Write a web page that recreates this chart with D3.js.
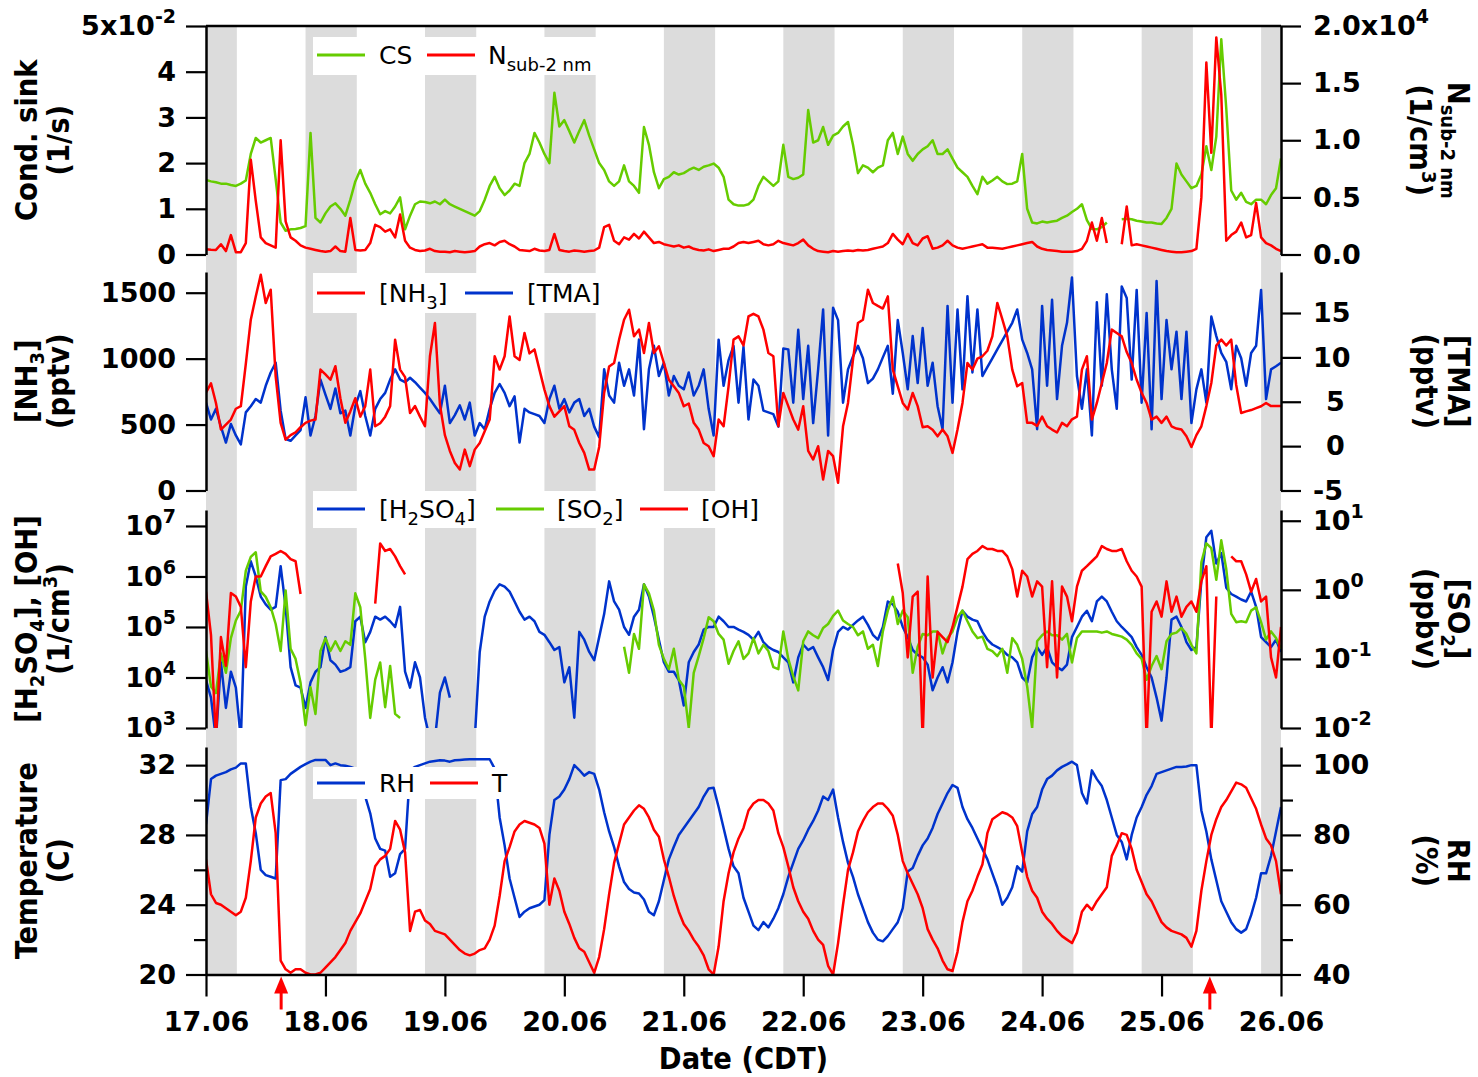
<!DOCTYPE html>
<html><head><meta charset="utf-8">
<script src="https://cdn.jsdelivr.net/npm/d3@7"></script>
<style>
body{margin:0;background:#fff;}
svg{display:block;}
.tick text{font-family:'DejaVu Sans',sans-serif;font-weight:bold;font-size:27px;fill:#000;}
.title{font-family:'DejaVu Sans Condensed','DejaVu Sans',sans-serif;font-stretch:condensed;font-weight:bold;font-size:30.5px;fill:#000;}
.leg{font-family:'DejaVu Sans',sans-serif;font-size:25px;fill:#000;}
</style></head><body>
<svg id="chart" width="1478" height="1077"></svg>
<script>
const _ = null;
// time axis: hours since 17.06 00:00 CDT, one sample per hour (0..216)
const dayTicks = [0,24,48,72,96,120,144,168,192,216];
const dayLabels = ["17.06","18.06","19.06","20.06","21.06","22.06","23.06","24.06","25.06","26.06"];
const nightBands = [[0,6.2],[20,30.3],[44,54.3],[68,78.3],[92,102.3],[116,126.3],[140,150.3],[164,174.3],[188,198.3],[212,216]];
const npfEvents = [15.1, 201.7];

// Condensation sink (x10^-2 1/s)
const cs = [
1.63,1.6,1.58,1.55,1.55,1.52,1.5,1.55,1.62,2.2,2.55,2.45,
2.5,2.55,1.65,0.7,0.52,0.55,0.56,0.58,0.62,2.66,0.8,0.7,
0.9,1.05,1.12,1.0,0.85,1.2,1.6,1.85,1.55,1.35,1.1,0.88,
0.95,0.9,1.05,1.25,0.55,0.85,1.1,1.16,1.15,1.12,1.16,1.1,
1.2,1.1,1.05,1.0,0.95,0.9,0.85,0.95,1.2,1.5,1.7,1.45,
1.3,1.4,1.55,1.5,2.0,2.2,2.66,2.45,2.2,2.0,3.54,2.8,
2.94,2.7,2.45,2.7,2.94,2.6,2.3,2.0,1.85,1.6,1.5,1.6,
1.95,1.6,1.5,1.35,2.79,2.4,1.8,1.45,1.65,1.7,1.8,1.75,
1.78,1.85,1.9,1.85,1.92,1.95,1.99,1.9,1.7,1.2,1.1,1.07,
1.07,1.1,1.2,1.5,1.7,1.6,1.5,1.6,2.4,1.7,1.65,1.68,
1.75,3.16,2.45,2.5,2.79,2.4,2.6,2.66,2.8,2.9,2.4,1.78,
1.95,1.9,1.8,1.9,1.95,2.5,2.66,2.2,2.58,2.2,2.05,2.2,
2.3,2.37,2.5,2.2,2.2,2.3,2.1,1.9,1.8,1.7,1.5,1.32,
1.7,1.55,1.62,1.7,1.6,1.54,1.55,1.6,2.2,1.0,0.7,0.68,
0.72,0.7,0.72,0.74,0.8,0.85,0.93,1.0,1.1,0.75,0.56,0.55,
0.6,0.7,_,_,0.77,0.78,0.77,0.74,0.72,0.7,0.7,0.68,
0.67,0.8,1.0,1.99,1.75,1.6,1.45,1.5,1.75,2.37,1.85,2.58,
4.71,3.2,1.4,1.2,1.35,1.15,1.1,1.2,1.2,1.1,1.3,1.45,
2.1];

// N sub-2 nm (1/cm3)
const nsub = [
450,420,400,900,300,1700,200,200,1000,8300,4700,1500,
1000,800,600,10000,2900,1500,1200,800,600,500,400,300,
250,300,700,300,250,3200,400,350,400,1000,2600,2400,
2000,2200,1500,3500,1200,600,400,300,350,500,300,250,
250,200,300,250,200,250,300,700,900,1000,800,1100,
1200,900,700,400,350,300,500,350,300,400,1800,400,
300,250,350,300,250,300,350,600,2400,2600,1200,900,
1500,1300,1800,1400,2000,1500,1000,1100,900,800,700,800,
600,700,500,400,350,450,300,400,500,500,700,1000,
1100,1000,1100,1200,900,800,900,1200,1000,900,800,1000,
1300,800,500,300,250,200,300,250,300,350,300,400,
350,400,500,600,700,1000,1800,1300,900,1800,1000,800,
1400,1600,500,600,800,1200,800,600,500,600,700,800,
900,600,600,550,500,600,700,800,900,1000,1100,700,
500,400,350,300,250,250,250,300,500,1200,2800,1200,
3200,1000,_,_,900,4200,800,900,800,700,600,500,
400,300,250,200,200,250,300,500,5000,16800,8900,19000,
14000,1200,1700,2000,2800,1500,1700,4500,1500,1000,800,500,
300];

// [NH3] (pptv)
const nh3 = [
742,813,664,462,500,538,620,639,960,1295,1472,1636,
1422,1523,866,513,386,420,440,480,513,530,538,917,
880,840,942,700,513,600,700,560,640,917,487,510,
560,640,1144,917,860,588,640,560,487,1018,1270,650,
420,300,209,159,310,185,310,361,450,538,1018,917,
1018,1320,1018,990,1194,1040,1070,917,765,640,560,600,
640,487,460,360,285,159,159,330,740,940,967,1144,
1295,1371,1169,1220,1043,1270,1043,1094,967,840,790,740,
639,660,513,462,360,336,260,538,487,790,1144,1169,
1100,1320,1340,1320,1220,1043,1018,487,740,640,538,462,
639,300,235,336,83,300,260,58,487,664,993,1270,
1295,1523,1422,1400,1380,1472,917,790,664,614,740,640,
480,487,460,411,462,411,285,462,664,967,917,1000,
1018,1060,1169,1422,1300,1169,917,790,815,513,513,490,
560,487,462,440,513,487,540,560,917,1018,538,664,
815,967,1220,1194,1169,1050,967,840,740,664,538,560,
513,560,487,470,462,411,330,420,487,640,815,1100,
1144,1100,1144,800,588,600,610,625,639,664,640,640,
640];

// [TMA] (pptv)
const tma = [
4.9,3.0,4.2,2.2,0.4,2.5,1.2,0.2,3.8,4.5,5.3,4.9,
6.8,8.3,9.4,4.0,0.8,0.6,1.2,1.8,5.5,1.2,3.4,7.5,
5.8,4.2,6.5,3.7,4.0,1.2,4.5,6.2,3.4,1.2,4.2,5.3,
6.0,7.5,8.65,7.5,7.2,7.7,7.2,6.6,6.0,5.3,4.5,3.7,
6.8,2.6,3.5,4.6,3.0,4.9,1.2,2.6,1.9,4.2,6.0,7.0,
6.0,4.5,5.6,0.4,4.2,3.8,3.6,3.4,2.6,5.3,6.8,4.2,
5.3,3.8,4.9,5.3,3.4,4.2,2.2,1.0,8.65,5.7,4.9,9.4,
6.8,8.65,5.7,12.0,1.9,8.65,11.3,7.9,9.4,5.7,7.9,6.8,
6.4,8.3,5.7,6.8,8.65,4.2,1.2,12.0,6.8,9.7,11.3,4.9,
11.2,3.0,7.5,6.8,4.0,3.8,3.6,2.2,11.0,10.9,4.9,13.1,
5.3,11.3,2.6,8.65,15.4,1.2,15.6,14.2,4.9,8.65,10.1,11.3,
9.9,7.1,7.6,8.65,10.0,11.3,5.9,14.2,10.5,6.4,12.4,7.1,
13.3,6.8,9.4,4.5,1.9,15.8,4.9,15.4,6.4,16.9,8.3,15.4,
7.9,8.9,9.9,10.9,11.9,12.9,13.9,15.4,12.0,10.5,8.65,1.9,
15.8,6.8,16.5,5.3,11.3,13.9,19.0,7.9,4.2,8.65,1.2,16.2,
6.8,17.1,8.65,4.2,18.0,16.7,7.5,17.6,4.9,15.0,1.9,18.6,
5.3,14.2,8.65,12.9,5.3,12.9,2.6,6.4,8.65,4.9,14.6,12.4,
10.5,9.5,6.4,11.3,9.9,6.8,10.5,11.3,17.6,5.3,8.65,9.0,
9.4];

// [H2SO4] (1/cm3)
const h2so4 = [
8.9e3,4e3,6e2,2e4,2.5e3,1.3e4,6.3e3,6e2,6.3e5,2e6,1e6,4e5,
2.8e5,2.2e5,2.5e5,1.6e6,2.5e5,1.6e4,7e3,6.3e3,2.5e3,8e3,1.3e4,1.6e4,
6.3e4,2.2e4,1.8e4,1.3e4,1.4e4,1.6e4,1.3e5,1.6e5,5e4,8e4,1.6e5,1.4e5,
1.6e5,1.3e5,1e5,2.5e5,1.3e4,6.3e3,2e4,1e4,1.6e3,6e2,6e2,5e3,
1e4,4e3,_,_,_,_,6e2,3.2e4,1.6e5,3.2e5,5.2e5,7e5,
6.3e5,5e5,3.2e5,2e5,1.4e5,1.6e5,1.3e5,8e4,7e4,5e4,3.5e4,4e4,
8e3,1.6e4,1.6e3,8e4,5.6e4,3.2e4,2.2e4,6.3e4,1.8e5,8e5,3.2e5,2.2e5,
1e5,7e4,1.6e5,2.2e5,7e5,4e5,1.6e5,5.6e4,2e4,1.3e4,1.3e4,8.9e3,
2.8e3,2e4,3.2e4,4.5e4,8.9e4,1e5,1e5,1.6e5,1.3e5,1e5,1e5,8.9e4,
8e4,7e4,5.6e4,8e4,5e4,4e4,3.5e4,3.2e4,2.5e4,2e4,8e3,2.5e4,
4.5e4,3.5e4,4e4,2.5e4,1.6e4,8.9e3,3.5e4,8e4,1e5,8.9e4,1.1e5,1.35e5,
1.6e5,1.1e5,7e4,5.6e4,1e5,3.2e5,2.8e5,2e5,1e5,6.3e4,3.5e4,2.8e4,
2.5e4,1.8e4,5.6e3,1e4,1.6e4,8e3,2e4,8e4,2.1e5,1.6e5,1.4e5,1.3e5,
8e4,5.6e4,4.5e4,4e4,3.5e4,2.8e4,2.5e4,2e4,1e4,8e3,2.5e4,4e4,
2.8e4,4e4,2e4,1.6e4,1.4e4,1.8e4,6.3e4,1e5,1.6e5,2.1e5,1.3e5,3.2e5,
4e5,3.2e5,2e5,1.3e5,1e5,8e4,6.3e4,4e4,2.8e4,1.6e4,1e4,4e3,
1.4e3,1e4,1.4e5,1.6e5,1e5,5e4,3.5e4,4e4,8.5e5,6e6,8e6,1.8e6,
2.9e6,6e5,4.5e5,4e5,3.5e5,3.2e5,5e5,2.5e5,6.3e4,5e4,4e4,5.6e4,
3.2e4];

// [OH] (1/cm3)
const oh = [
5e5,7e4,6e2,6.3e4,1.7e4,4.7e5,4e5,2.5e5,1.6e4,3.2e5,1e6,1e6,
1.6e6,2.5e6,2.8e6,3.2e6,2.8e6,2.2e6,2e6,4.5e5,_,_,_,_,
_,_,_,_,_,_,_,_,_,_,2.9e5,4.5e6,
3.2e6,3.5e6,2.5e6,1.6e6,1.1e6,_,_,_,_,_,_,_,
_,_,_,_,_,_,_,_,_,_,_,_,
_,_,_,_,_,_,_,_,_,_,_,_,
_,_,_,_,_,_,_,_,_,_,_,_,
_,_,_,_,_,_,_,_,_,_,_,_,
_,_,_,_,_,_,_,_,_,_,_,_,
_,_,_,_,_,_,_,_,_,_,_,_,
_,_,_,_,_,_,_,_,_,_,_,_,
_,_,_,_,_,_,_,1.8e6,4.7e5,2.5e4,4e5,5e5,
6e2,1e6,1e4,8e4,6.3e4,5e4,1e5,2.5e5,6.3e5,2.2e6,2.8e6,3.2e6,
4e6,3.5e6,3.5e6,3.2e6,3.2e6,2.5e6,1.4e6,4e5,1.3e6,1e6,4e5,8e5,
6.3e5,1.6e4,8e5,1e4,6.3e5,4e5,1.3e5,6.3e5,1.3e6,1.6e6,2e6,2.5e6,
4e6,3.5e6,3.2e6,3.2e6,3.5e6,2e6,1.3e6,1e6,6.3e5,6e2,2e5,3.2e5,
1.6e5,8e5,2e5,4e5,1.6e5,2.5e5,3.2e5,2e5,8e5,1.6e6,6e2,4e5,
_,_,2.5e6,2e6,2e6,1.1e6,5e5,8.9e5,3.2e5,4e5,2.5e4,1e4,
1e5];

// [SO2] (ppbv)
const so2 = [
0.13,0.04,0.032,0.12,0.063,0.2,0.36,0.5,1.9,3.0,3.5,0.95,
0.79,0.56,0.32,0.13,0.98,0.14,0.1,0.045,0.011,0.039,0.016,0.13,
0.2,0.13,0.18,0.13,0.18,0.16,0.89,0.56,0.1,0.014,0.05,0.089,
0.02,0.079,0.016,0.014,_,_,_,_,_,_,_,_,
_,_,_,_,_,_,_,_,_,_,_,_,
_,_,_,_,_,_,_,_,_,_,_,_,
_,_,_,_,_,_,_,_,_,_,_,_,
0.15,0.063,0.23,0.14,1.2,0.89,0.5,0.16,0.1,0.071,0.14,0.05,
0.04,0.01,0.063,0.11,0.2,0.4,0.35,0.23,0.19,0.085,0.13,0.18,
0.1,0.12,0.2,0.12,0.16,0.13,0.076,0.071,0.25,0.1,0.056,0.035,
0.18,0.25,0.22,0.2,0.28,0.32,0.42,0.5,0.36,0.32,0.29,0.22,
0.25,0.14,0.16,0.079,0.25,0.5,0.79,0.32,0.5,0.4,0.063,0.15,
0.23,0.22,0.25,0.25,0.12,0.2,0.25,0.4,0.5,0.35,0.25,0.2,
0.21,0.14,0.13,0.11,0.14,0.063,0.2,0.16,0.1,0.04,0.01,0.18,
0.22,0.25,0.22,0.22,0.19,0.23,0.089,0.2,0.25,0.25,0.25,0.25,
0.24,0.25,0.23,0.22,0.21,0.19,0.16,0.12,0.1,0.05,0.079,0.11,
0.071,0.18,0.23,0.24,0.28,0.23,0.16,0.12,2.5,4.7,4.0,1.4,
5.2,2.0,0.45,0.34,0.35,0.34,0.5,0.56,0.34,0.19,0.25,0.2,
0.14];

// RH (%)
const rh = [
83,96,97,97.5,98,98.8,99.3,100.5,100.5,88,80.5,70,
68.5,68,67.5,95.7,96,97.5,98.5,99.5,100.3,101,101.5,101.5,
101.5,100,100.5,100,99.8,99.5,99,97,91,86.2,79,76,
75.5,68,69,74.5,76,98.5,99.5,100,100.5,101,101.2,101.4,
101.3,101,101.4,101.5,101.6,101.7,101.7,101.7,101.7,101.7,99,85,
77,67.5,62,56.5,58,59,59.5,60,61.3,80,90,91,
93,96,100,98.6,97,98,97.5,93,86.5,81,76.5,71,
66.5,64.5,63.5,63.2,61.5,58,57,61,67,73,76.6,80,
82,84,86,88,91,93.3,93.5,88,82,76,71,69,
62,58,54,52.7,55,53.5,56,59,63,68,72,76,
78.5,81.5,84,87,91,90,93,85,78,72,68,63,
59,55,52,50,49.5,51,53,55,59,69.5,70.5,74,
77,79,82,86,89,92,94.3,93.5,88,84.5,82,79,
76,73,69,65,60,62,65,71,69.5,81,86,88,
93,96,97,98.5,99.5,100.2,101,100,92,89,98.5,96,
94,90,85,80,78,73,80,85,88,91.5,94,97.5,
98,98.5,99,99.5,99.5,99.6,100,100,87,81,73,67,
61,58,55,53,52,53,57,62,69,69,74,81,
88];

// Temperature (C)
const temp = [
26.6,24.6,24.1,24.0,23.8,23.6,23.4,23.6,24.4,26.5,29.0,29.8,
30.2,30.4,28.1,20.8,20.3,20.1,20.3,20.3,20.1,20.0,20.0,20.1,
20.4,20.7,21.0,21.4,21.8,22.5,23.0,23.5,24.2,24.9,26.2,26.6,
26.8,27.2,28.8,28.3,27.0,22.5,23.6,23.7,23.1,22.9,22.5,22.4,
22.3,22.0,21.7,21.4,21.2,21.1,21.2,21.4,21.5,22.0,22.8,24.5,
26.5,27.3,28.2,28.6,28.8,28.7,28.6,28.4,27.5,24.0,25.5,24.8,
23.6,22.9,22.1,21.5,21.3,20.7,20.1,21.0,22.6,24.6,26.4,27.5,
28.6,29.0,29.4,29.7,29.5,29.0,28.3,27.9,26.6,25.6,24.5,23.6,
22.9,22.5,22.0,21.6,21.1,20.3,20.0,21.6,24.2,25.8,27.0,27.8,
28.4,29.4,29.8,30.0,30.0,29.8,29.4,28.1,27.3,26.2,25.0,24.2,
23.6,23.2,22.5,22.0,21.7,20.5,20.0,21.8,24.0,26.0,27.0,28.2,
28.8,29.3,29.6,29.8,29.8,29.5,29.1,28.0,26.5,25.8,25.2,24.6,
23.8,22.6,22.0,21.5,20.8,20.3,20.2,21.3,23.0,24.2,24.8,25.6,
26.3,28.1,28.9,29.1,29.3,29.2,29.0,28.5,27.0,25.6,24.8,24.4,
23.6,23.2,22.9,22.5,22.2,22.0,21.8,22.4,23.6,24.0,23.7,24.2,
24.6,25.0,26.8,27.4,28.1,28.0,27.2,26.0,25.3,24.6,24.2,23.6,
23.0,22.7,22.5,22.4,22.3,22.1,21.6,22.5,24.8,26.5,28.0,28.9,
29.6,30.0,30.5,31.0,30.9,30.7,30.1,29.5,28.6,27.8,27.4,26.5,
24.6];

// ---------------- layout ----------------
const L = 206, R = 1281;
const panels = [{top:26,bottom:254.5},{top:272,bottom:490.5},{top:510,bottom:728},{top:747,bottom:974.5}];
const GREEN = '#66cc00', RED = '#ff0000', BLUE = '#0033cc', GREY = '#dcdcdc';

const svg = d3.select('#chart');
const x = d3.scaleLinear().domain([0, 216]).range([L, R]);
const pr = i => [panels[i].bottom, panels[i].top];
const yCS = d3.scaleLinear().domain([0, 5]).range(pr(0));
const yNsub = d3.scaleLinear().domain([0, 20000]).range(pr(0));
const yNH3 = d3.scaleLinear().domain([0, 1657]).range(pr(1));
const yTMA = d3.scaleLinear().domain([-5, 19.62]).range(pr(1));
const yH2 = d3.scaleLog().domain([1e3, 2.07e7]).range(pr(2));
const ySO2 = d3.scaleLog().domain([1e-2, 14.3]).range(pr(2));
const yT = d3.scaleLinear().domain([20, 33.04]).range(pr(3));
const yRH = d3.scaleLinear().domain([40, 105.2]).range(pr(3));

// night shading
svg.append('g').selectAll('rect').data(nightBands).join('rect')
  .attr('x', d => x(d[0])).attr('width', d => x(d[1]) - x(d[0]))
  .attr('y', panels[0].top).attr('height', panels[3].bottom - panels[0].top)
  .attr('fill', GREY);

// clip paths
const defs = svg.append('defs');
panels.forEach((p, i) => {
  defs.append('clipPath').attr('id', 'clip' + i).append('rect')
    .attr('x', L).attr('y', p.top).attr('width', R - L).attr('height', p.bottom - p.top);
});

function drawSeries(pi, values, yScale, color) {
  const line = d3.line().defined(d => d !== null).x((d, i) => x(i)).y(d => yScale(d));
  svg.append('path').datum(values).attr('clip-path', `url(#clip${pi})`)
    .attr('d', line).attr('fill', 'none').attr('stroke', color)
    .attr('stroke-width', 2.5).attr('stroke-linejoin', 'round');
}
drawSeries(0, cs, yCS, GREEN);
drawSeries(0, nsub, yNsub, RED);
drawSeries(1, tma, yTMA, BLUE);
drawSeries(1, nh3, yNH3, RED);
drawSeries(2, h2so4, yH2, BLUE);
drawSeries(2, so2, ySO2, GREEN);
drawSeries(2, oh, yH2, RED);
drawSeries(3, rh, yRH, BLUE);
drawSeries(3, temp, yT, RED);

// ---------------- axes ----------------
function styleAxis(g) {
  g.select('.domain').attr('stroke', '#000').attr('stroke-width', 2.5);
  g.selectAll('.tick line').attr('stroke', '#000').attr('stroke-width', 2.2);
}
function addAxis(gen, tx, ty, supFn) {
  const g = svg.append('g').attr('transform', `translate(${tx},${ty})`).call(gen);
  styleAxis(g);
  if (supFn) g.selectAll('.tick text').each(function (d) {
    const r = supFn(d);
    if (r) {
      const t = d3.select(this); t.text(null);
      t.append('tspan').text(r[0]);
      t.append('tspan').attr('dy', '-0.62em').style('font-size', '19px').text(r[1]);
    }
  });
  return g;
}
const LT = 20, RT = 20;
// panel 1
addAxis(d3.axisLeft(yCS).tickValues([0,1,2,3,4,5]).tickSize(LT).tickSizeOuter(0).tickPadding(10)
  .tickFormat(d => String(d)), L, 0, d => d === 5 ? ['5x10', '-2'] : null);
addAxis(d3.axisRight(yNsub).tickValues([0,5000,10000,15000,20000]).tickSize(RT).tickSizeOuter(0).tickPadding(12)
  .tickFormat(d => (d / 1e4).toFixed(1)), R, 0, d => d === 20000 ? ['2.0x10', '4'] : null);
// panel 2
addAxis(d3.axisLeft(yNH3).tickValues([0,500,1000,1500]).tickSize(LT).tickSizeOuter(0).tickPadding(10)
  .tickFormat(d => String(d)), L, 0);
const gTMA = addAxis(d3.axisRight(yTMA).tickValues([-5,0,5,10,15]).tickSize(RT).tickSizeOuter(0).tickPadding(12)
  .tickFormat(d => String(d)), R, 0);
gTMA.selectAll('.tick text').filter(d => d >= 0 && d < 10).attr('x', 45);
// panel 3
addAxis(d3.axisLeft(yH2).tickValues([1e3,1e4,1e5,1e6,1e7]).tickSize(LT).tickSizeOuter(0).tickPadding(10)
  .tickFormat(() => ''), L, 0, d => ['10', String(Math.round(Math.log10(d)))]);
addAxis(d3.axisRight(ySO2).tickValues([1e-2,1e-1,1,10]).tickSize(RT).tickSizeOuter(0).tickPadding(12)
  .tickFormat(() => ''), R, 0, d => ['10', String(Math.round(Math.log10(d)))]);
// panel 4
addAxis(d3.axisLeft(yT).tickValues([20,24,28,32]).tickSize(LT).tickSizeOuter(0).tickPadding(10)
  .tickFormat(d => String(d)), L, 0);
addAxis(d3.axisLeft(yT).tickValues([22,26,30]).tickSize(12).tickSizeOuter(0).tickFormat(() => ''), L, 0)
  .select('.domain').remove();
addAxis(d3.axisRight(yRH).tickValues([40,60,80,100]).tickSize(RT).tickSizeOuter(0).tickPadding(12)
  .tickFormat(d => String(d)), R, 0);
addAxis(d3.axisRight(yRH).tickValues([50,70,90]).tickSize(12).tickSizeOuter(0).tickFormat(() => ''), R, 0)
  .select('.domain').remove();
// x axis
addAxis(d3.axisBottom(x).tickValues(dayTicks).tickSize(22).tickSizeOuter(0).tickPadding(15)
  .tickFormat((d, i) => dayLabels[i]), 0, panels[3].bottom);
// top frame
svg.append('line').attr('x1', L).attr('x2', R).attr('y1', panels[0].top).attr('y2', panels[0].top)
  .attr('stroke', '#000').attr('stroke-width', 2.5);

// event arrows
svg.append('g').selectAll('g').data(npfEvents).join('g').each(function (h) {
  const g = d3.select(this), cx = x(h), yb = panels[3].bottom;
  g.append('path').attr('d', `M${cx},${yb + 2}L${cx - 7},${yb + 19}L${cx + 7},${yb + 19}Z`).attr('fill', RED);
  g.append('line').attr('x1', cx).attr('x2', cx).attr('y1', yb + 16).attr('y2', yb + 35)
    .attr('stroke', RED).attr('stroke-width', 3);
});

// ---------------- legends ----------------
function richText(sel, parts, small) {
  let shift = 0;
  parts.forEach(p => {
    const [txt, kind] = Array.isArray(p) ? p : [p, null];
    const t = sel.append('tspan').text(txt);
    const target = kind === 'sub' ? small.sub : kind === 'sup' ? small.sup : 0;
    if (target !== shift) { t.attr('dy', target - shift); shift = target; }
    if (kind) t.style('font-size', small.size + 'px');
  });
}
function legend(box, items) {
  const g = svg.append('g');
  g.append('rect').attr('x', box[0]).attr('y', box[1]).attr('width', box[2]).attr('height', box[3]).attr('fill', '#fff');
  items.forEach(it => {
    g.append('line').attr('x1', it.x1).attr('x2', it.x1 + 48).attr('y1', it.y).attr('y2', it.y)
      .attr('stroke', it.color).attr('stroke-width', 3);
    const t = g.append('text').attr('class', 'leg').attr('x', it.tx).attr('y', it.y + 9);
    richText(t, it.parts, {size: 18, sub: 7, sup: -10});
  });
}
legend([313, 37, 286, 38], [
  {x1: 317, y: 55, color: GREEN, tx: 379, parts: ['CS']},
  {x1: 427, y: 55, color: RED, tx: 488, parts: ['N', ['sub-2 nm', 'sub']]}]);
legend([313, 273, 292, 40], [
  {x1: 317, y: 293, color: RED, tx: 379, parts: ['[NH', ['3', 'sub'], ']']},
  {x1: 465, y: 293, color: BLUE, tx: 527, parts: ['[TMA]']}]);
legend([313, 491, 457, 37], [
  {x1: 317, y: 509, color: BLUE, tx: 379, parts: ['[H', ['2', 'sub'], 'SO', ['4', 'sub'], ']']},
  {x1: 496, y: 509, color: GREEN, tx: 557, parts: ['[SO', ['2', 'sub'], ']']},
  {x1: 640, y: 509, color: RED, tx: 701, parts: ['[OH]']}]);
legend([313, 767, 193, 32], [
  {x1: 317, y: 783, color: BLUE, tx: 379, parts: ['RH']},
  {x1: 430, y: 783, color: RED, tx: 492, parts: ['T']}]);

// ---------------- axis titles ----------------
function title(cx, cy, rot, lines, gap) {
  lines.forEach((parts, k) => {
    const off = (k === 0 ? 0 : gap);
    const px = rot < 0 ? cx + off : cx - off;
    const t = svg.append('text').attr('class', 'title').attr('text-anchor', 'middle')
      .attr('transform', `translate(${px},${cy}) rotate(${rot})`).attr('dy', '0.36em');
    richText(t, parts, {size: 20, sub: 7, sup: -12});
  });
}
title(26, (panels[0].top + panels[0].bottom) / 2, -90, [['Cond. sink'], ['(1/s)']], 32);
title(26, (panels[1].top + panels[1].bottom) / 2, -90, [['[NH', ['3', 'sub'], ']'], ['(pptv)']], 32);
title(26, (panels[2].top + panels[2].bottom) / 2, -90, [['[H', ['2', 'sub'], 'SO', ['4', 'sub'], '], [OH]'], ['(1/cm', ['3', 'sup'], ')']], 32);
title(26, (panels[3].top + panels[3].bottom) / 2, -90, [['Temperature'], ['(C)']], 32);
title(1459, (panels[0].top + panels[0].bottom) / 2, 90, [['N', ['sub-2 nm', 'sub']], ['(1/cm', ['3', 'sup'], ')']], 38);
title(1459, (panels[1].top + panels[1].bottom) / 2, 90, [['[TMA]'], ['(pptv)']], 32);
title(1459, (panels[2].top + panels[2].bottom) / 2, 90, [['[SO', ['2', 'sub'], ']'], ['(ppbv)']], 32);
title(1459, (panels[3].top + panels[3].bottom) / 2, 90, [['RH'], ['(%)']], 32);
svg.append('text').attr('class', 'title').attr('text-anchor', 'middle')
  .attr('x', (L + R) / 2).attr('y', 1069).text('Date (CDT)');
</script>
</body></html>
